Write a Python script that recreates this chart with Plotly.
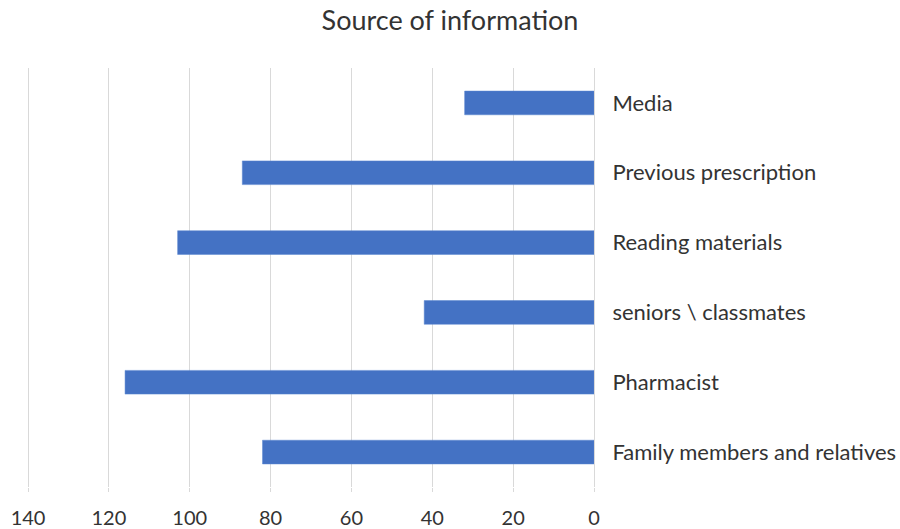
import plotly.graph_objects as go

categories = ["Family members and relatives", "Pharmacist", "seniors \\ classmates",
              "Reading materials", "Previous prescription", "Media"]
values = [82, 116, 42, 103, 87, 32]
tick_vals = [0, 20, 40, 60, 80, 100, 120, 140]

FONT = "Lato, 'Open Sans', sans-serif"
TXT = "#333333"

fig = go.Figure(go.Bar(
    x=values, y=categories, orientation="h",
    marker=dict(color="#4472C4", line=dict(color="#5B86D0", width=0.5)),
    width=0.34,
))

fig.update_layout(
    width=900, height=529,
    paper_bgcolor="white", plot_bgcolor="white",
    margin=dict(l=24, r=306, t=68, b=42, autoexpand=False),
    title=dict(text="Source of information", x=0.5, xanchor="center",
               y=0.962, yanchor="middle",
               font=dict(family=FONT, size=27, color=TXT)),
    font=dict(family=FONT, color=TXT),
    showlegend=False,
)
fig.update_xaxes(
    range=[141, 0], tickvals=tick_vals, showgrid=True, gridcolor="#d9d9d9", gridwidth=1,
    zeroline=False, showline=False, automargin=False,
    ticks="outside", ticklen=4, tickcolor="#d9d9d9",
    ticklabelstandoff=9,
    tickfont=dict(family=FONT, size=20, color=TXT),
)
fig.update_yaxes(
    side="right", showgrid=False, showline=True, linecolor="#d9d9d9", linewidth=1,
    ticks="", ticklabelstandoff=13, automargin=False,
    tickfont=dict(family=FONT, size=22, color=TXT),
    categoryorder="array", categoryarray=categories,
)

fig.write_html("out.html", config={"displayModeBar": False},
               post_script="document.body.style.margin='0';document.body.style.overflow='hidden';")
